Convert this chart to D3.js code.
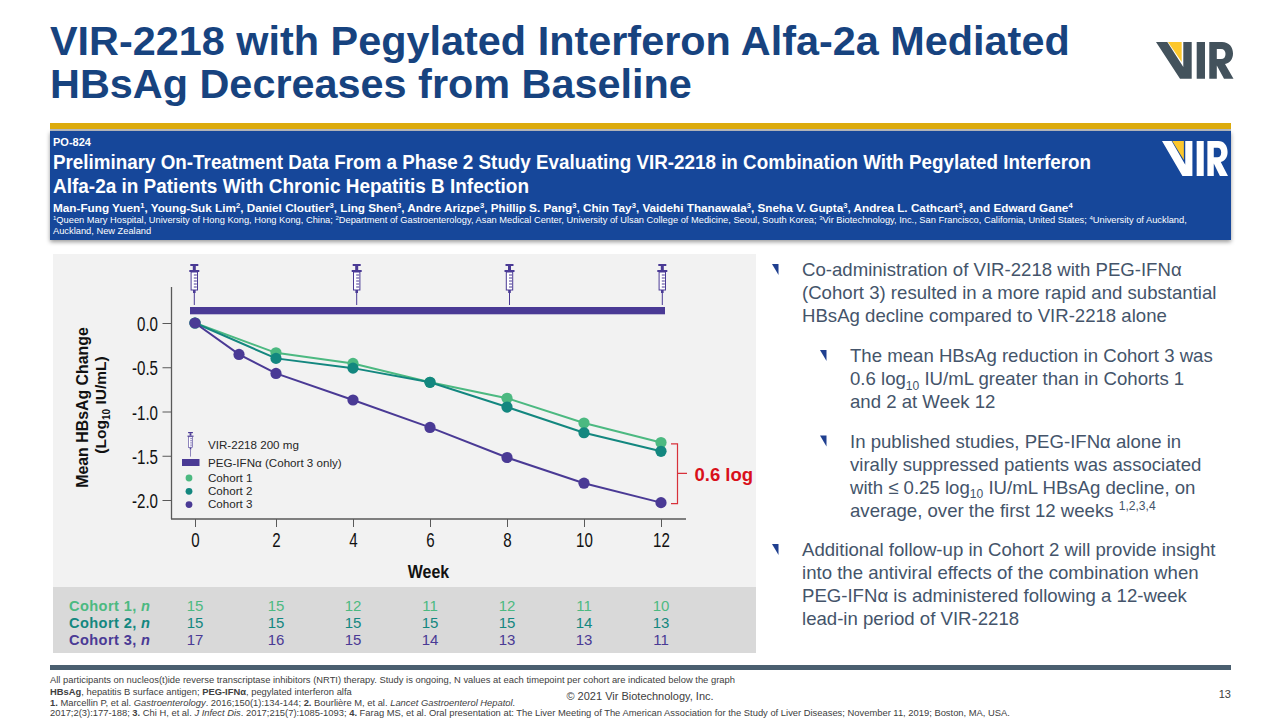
<!DOCTYPE html>
<html><head><meta charset="utf-8">
<script src="https://cdn.jsdelivr.net/npm/d3@7/dist/d3.min.js"></script>
<style>
html,body{margin:0;padding:0;background:#fff;overflow:hidden}
svg{display:block}
text{font-family:"Liberation Sans",Arial,sans-serif}
</style></head><body>
<script>
// ---------- data ----------
const weekTicks = [0, 2, 4, 6, 8, 10, 12];
const yTicks = [0, -0.5, -1, -1.5, -2];
const doseWeeks = [0, 4, 8, 12];
const cohort1Weeks = [0, 2, 4, 6, 8, 10, 12];
const cohort1Values = [0, -0.337, -0.457, -0.67, -0.85, -1.13, -1.35];
const cohort2Weeks = [0, 2, 4, 6, 8, 10, 12];
const cohort2Values = [0, -0.40, -0.51, -0.67, -0.95, -1.24, -1.45];
const cohort3Weeks = [0, 1, 2, 4, 6, 8, 10, 12];
const cohort3Values = [0, -0.355, -0.57, -0.87, -1.18, -1.52, -1.81, -2.03];
const cohortNames = ["Cohort 1", "Cohort 2", "Cohort 3"];
const cohort1N = [15, 15, 12, 11, 12, 11, 10];
const cohort2N = [15, 15, 15, 15, 15, 14, 13];
const cohort3N = [17, 16, 15, 14, 13, 13, 11];
const legendLabels = ["VIR-2218 200 mg", "PEG-IFNα (Cohort 3 only)", "Cohort 1", "Cohort 2", "Cohort 3"];
const titleLines = ["VIR-2218 with Pegylated Interferon Alfa-2a Mediated", "HBsAg Decreases from Baseline"];
const bannerTitle = ["Preliminary On-Treatment Data From a Phase 2 Study Evaluating VIR-2218 in Combination With Pegylated Interferon", "Alfa-2a in Patients With Chronic Hepatitis B Infection"];
const C1 = "#4cb981", C2 = "#13877f", C3 = "#4a3a95", BODY = "#44546a";

// ---------- helpers ----------
const svg = d3.select("body").append("svg").attr("width", 1280).attr("height", 720);
function rich(g, x, y, parts, o) {
  const t = g.append("text").attr("x", x).attr("y", y)
    .attr("font-size", o.size).attr("fill", o.fill)
    .attr("font-family", o.family || null).attr("font-weight", o.weight || null)
    .attr("text-anchor", o.anchor || null).attr("transform", o.transform || null)
    .attr("xml:space", "preserve");
  let shift = 0;
  parts.forEach(p => {
    const s = typeof p === "string" ? { t: p } : p;
    const ts = t.append("tspan").text(s.t);
    if (s.b) ts.attr("font-weight", "bold");
    if (s.i) ts.attr("font-style", "italic");
    const off = s.sub ? o.size * 0.25 : s.sup ? -o.size * 0.35 : 0;
    if (off !== shift) { ts.attr("dy", off - shift); shift = off; }
    if (s.sub || s.sup) ts.attr("font-size", o.size * 0.65);
  });
  return t;
}
function logo(x, y, w, h, mono, accent) {
  const g = svg.append("g").attr("transform", `translate(${x},${y}) scale(${w / 77.5},${h / 36.7})`);
  g.append("path").attr("fill", mono).attr("d", "M0,0H11.3L27.3,25V0H35.7V36.7H24Z M40.7,0H49V36.7H40.7Z");
  g.append("path").attr("fill", accent).attr("d", "M12,0H25.7V20Z");
  g.append("path").attr("fill", mono).attr("fill-rule", "evenodd").attr("d",
    "M53.3,0H66C73,0 77,5 77,11.5C77,17 74,21 69,22L77.5,36.7H68L60.8,23.5V36.7H53.3Z M60.8,7V17H65C68,17 69.5,15 69.5,12C69.5,9 68,7 65,7Z");
}
function syringe(g, cx, top, k, col) {
  const s = g.append("g").attr("transform", `translate(${cx},${top}) scale(${k})`)
    .attr("fill", "none").attr("stroke", col);
  s.append("rect").attr("x", -4).attr("y", 0).attr("width", 8).attr("height", 2).attr("fill", col).attr("stroke", "none");
  s.append("rect").attr("x", -1.5).attr("y", 2).attr("width", 3).attr("height", 4).attr("fill", col).attr("stroke", "none");
  s.append("rect").attr("x", -5).attr("y", 6).attr("width", 10).attr("height", 2).attr("fill", col).attr("stroke", "none");
  s.append("rect").attr("x", -3.2).attr("y", 8).attr("width", 6.4).attr("height", 18).attr("fill", "#fff").attr("stroke-width", 1);
  [11, 14, 17, 20, 23].forEach(v => s.append("line").attr("x1", -0.5).attr("x2", 2.5).attr("y1", v).attr("y2", v).attr("stroke-width", 1));
  s.append("rect").attr("x", -1.3).attr("y", 26).attr("width", 2.6).attr("height", 3).attr("fill", col).attr("stroke", "none");
  s.append("line").attr("x1", 0).attr("x2", 0).attr("y1", 29).attr("y2", 41).attr("stroke-width", 1);
}

// ---------- header ----------
titleLines.forEach((l, i) => svg.append("text").attr("x", 50).attr("y", 55 + i * 43)
  .attr("font-size", 41.4).attr("font-weight", "bold").attr("fill", "#17437f").text(l));
logo(1156, 42, 77.5, 36.7, "#43525c", "#fcc72c");

const defs = svg.append("defs");
const blur = defs.append("filter").attr("id", "sh").attr("x", "-2%").attr("y", "-10%").attr("width", "104%").attr("height", "125%");
blur.append("feDropShadow").attr("dx", 0).attr("dy", 2).attr("stdDeviation", 2).attr("flood-color", "#000").attr("flood-opacity", .4);
svg.append("rect").attr("x", 50).attr("y", 123).attr("width", 1181).attr("height", 6).attr("fill", "#dcab0c");
svg.append("rect").attr("x", 50).attr("y", 129).attr("width", 1181).attr("height", 2).attr("fill", "#b9bcc0");
svg.append("rect").attr("x", 50).attr("y", 131).attr("width", 1181).attr("height", 109).attr("fill", "#19469a").attr("filter", "url(#sh)");
svg.append("text").attr("x", 53).attr("y", 146).attr("font-size", 11).attr("font-weight", "bold").attr("fill", "#fff").text("PO-824");
const bannerWidths = [1038, 476];
bannerTitle.forEach((l, i) => svg.append("text").attr("x", 53).attr("y", 169 + i * 24)
  .attr("font-family", "Lato").attr("font-size", 20.8).attr("font-weight", "bold").attr("fill", "#fff")
  .attr("textLength", bannerWidths[i]).attr("lengthAdjust", "spacingAndGlyphs").text(l));
const authors = ["Man-Fung Yuen", "1", ", Young-Suk Lim", "2", ", Daniel Cloutier", "3", ", Ling Shen", "3", ", Andre Arizpe", "3", ", Phillip S. Pang", "3", ", Chin Tay", "3", ", Vaidehi Thanawala", "3", ", Sneha V. Gupta", "3", ", Andrea L. Cathcart", "3", ", and Edward Gane", "4"];
rich(svg, 53, 212, authors.map((t, i) => i % 2 ? { t, sup: 1 } : t), { size: 11.74, fill: "#fff", weight: "bold" });
rich(svg, 53, 223, [{ t: "1", sup: 1 }, "Queen Mary Hospital, University of Hong Kong, Hong Kong, China; ", { t: "2", sup: 1 }, "Department of Gastroenterology, Asan Medical Center, University of Ulsan College of Medicine, Seoul, South Korea; ", { t: "3", sup: 1 }, "Vir Biotechnology, Inc., San Francisco, California, United States; ", { t: "4", sup: 1 }, "University of Auckland,"], { size: 9.3, fill: "#fff" });
svg.append("text").attr("x", 53).attr("y", 234).attr("font-size", 9.3).attr("fill", "#fff").text("Auckland, New Zealand");
logo(1162, 141, 66, 35, "#ffffff", "#fcc72c");

// ---------- panels ----------
svg.append("rect").attr("x", 53).attr("y", 254).attr("width", 703).attr("height", 333).attr("fill", "#f2f2f2");
svg.append("rect").attr("x", 53).attr("y", 587).attr("width", 703).attr("height", 66).attr("fill", "#d9d9d9");

// ---------- scales ----------
const x = d3.scaleLinear().domain([0, 1, 2, 12]).range([195, 239, 276, 661]);
const doseX = d3.scaleLinear().domain([0, 4, 12]).range([194.3, 356.7, 662.3]);
const y = d3.scaleLinear().domain([0, -2]).range([323, 500]);
const squeeze = 0.72;

// axes
const axisY = svg.append("g").attr("transform", "translate(171.5,0)")
  .call(d3.axisLeft(y).tickValues(yTicks).tickSize(9).tickSizeOuter(0).tickPadding(4).tickFormat(d3.format(".1f")));
axisY.select(".domain").remove();
axisY.append("line").attr("y1", 287).attr("y2", 519).attr("stroke", "#595959").attr("stroke-width", 1.3);
const axisX = svg.append("g").attr("transform", "translate(0,519)")
  .call(d3.axisBottom(x).tickValues(weekTicks).tickSize(8).tickSizeOuter(0).tickPadding(5));
axisX.select(".domain").remove();
axisX.append("line").attr("x1", 171).attr("x2", 686).attr("stroke", "#595959").attr("stroke-width", 1.3);
[axisX, axisY].forEach(a => {
  a.selectAll(".tick line").attr("stroke", "#595959").attr("stroke-width", 1);
  a.selectAll(".tick text").attr("font-size", 21).attr("fill", "#111").attr("transform", `scale(${squeeze},1)`);
});
axisY.selectAll(".tick text").attr("x", -13.5 / squeeze).attr("y", 1).text(d => d3.format(".1f")(d).replace("−", "-"));

svg.append("text").attr("transform", "translate(88,407.5) rotate(-90)").attr("text-anchor", "middle")
  .attr("font-size", 15.9).attr("font-weight", "bold").attr("fill", "#111").text("Mean HBsAg Change");
rich(svg, 0, 0, ["(Log", { t: "10", sub: 1 }, " IU/mL)"], { size: 15.5, fill: "#111", weight: "bold", anchor: "middle", transform: "translate(106,405) rotate(-90)" });
svg.append("text").attr("transform", "translate(428.5,578) scale(0.84,1)").attr("text-anchor", "middle")
  .attr("font-size", 19).attr("font-weight", "bold").attr("fill", "#111").text("Week");

// PEG bar and doses
svg.append("rect").attr("x", x(0) - 5).attr("y", 307).attr("width", x(12) - x(0) + 9).attr("height", 7.3).attr("fill", C3);
doseWeeks.forEach(w => syringe(svg, doseX(w), 264, 1, C3));

// series
const line = d3.line().x(d => x(d[0])).y(d => y(d[1]));
[[cohort1Weeks, cohort1Values, C1], [cohort2Weeks, cohort2Values, C2], [cohort3Weeks, cohort3Values, C3]].forEach(([w, v, c]) => {
  const pts = d3.zip(w, v);
  svg.append("path").datum(pts).attr("d", line).attr("fill", "none").attr("stroke", c).attr("stroke-width", 2);
  svg.append("g").selectAll("circle").data(pts).join("circle")
    .attr("cx", d => x(d[0])).attr("cy", d => y(d[1])).attr("r", 5.6).attr("fill", c);
});

// legend
syringe(svg, 190.5, 432, 0.6, C3);
svg.append("rect").attr("x", 182).attr("y", 459).attr("width", 17.5).attr("height", 7).attr("fill", C3);
[C1, C2, C3].forEach((c, i) => svg.append("circle").attr("cx", 189).attr("cy", 478 + i * 13.3).attr("r", 3.4).attr("fill", c));
[449, 467, 482, 495, 508].forEach((b, i) => svg.append("text").attr("x", 208).attr("y", b)
  .attr("font-size", 11.6).attr("fill", "#262626").text(legendLabels[i]));

// bracket
svg.append("path").attr("fill", "none").attr("stroke", "#d8313a").attr("stroke-width", 1.2)
  .attr("d", `M671,${y(-1.365)}H677.5V${y(-2.04)}H671M677.5,${y(-1.7)}H687`);
svg.append("text").attr("x", 694.5).attr("y", 481).attr("font-size", 18.5).attr("font-weight", "bold").attr("fill", "#d9101a").text("0.6 log");

// n table
[[cohort1N, C1], [cohort2N, C2], [cohort3N, C3]].forEach(([ns, c], r) => {
  const base = 611 + r * 17;
  rich(svg, 69, base, [cohortNames[r] + ", ", { t: "n", i: 1 }], { size: 14.6, fill: c, weight: "bold" }).style("letter-spacing", "0.4px");
  ns.forEach((n, i) => svg.append("text").attr("x", x(weekTicks[i])).attr("y", base).attr("text-anchor", "middle")
    .attr("font-size", 15).attr("fill", c).text(n));
});

// ---------- bullets ----------
const bullets = [
  [0, 276, ["Co-administration of VIR-2218 with PEG-IFNα"], ["(Cohort 3) resulted in a more rapid and substantial"], ["HBsAg decline compared to VIR-2218 alone"]],
  [1, 362, ["The mean HBsAg reduction in Cohort 3 was"], ["0.6 log", { t: "10", sub: 1 }, " IU/mL greater than in Cohorts 1"], ["and 2 at Week 12"]],
  [1, 447.5, ["In published studies, PEG-IFNα alone in"], ["virally suppressed patients was associated"], ["with ≤ 0.25 log", { t: "10", sub: 1 }, " IU/mL HBsAg decline, on"], ["average, over the first 12 weeks ", { t: "1,2,3,4", sup: 1 }]],
  [0, 556, ["Additional follow-up in Cohort 2 will provide insight"], ["into the antiviral effects of the combination when"], ["PEG-IFNα is administered following a 12-week"], ["lead-in period of VIR-2218"]]
];
bullets.forEach(([lvl, base, ...lines]) => {
  const tx = lvl ? 850 : 802, bx = lvl ? 820 : 772;
  svg.append("path").attr("d", `M${bx},${base - 12}h6.5v11z`).attr("fill", "#1f3f8f");
  lines.forEach((p, i) => rich(svg, tx, base + i * 23, p, { size: 18.6, fill: BODY }));
});

// ---------- footer ----------
svg.append("rect").attr("x", 50).attr("y", 665).attr("width", 1181).attr("height", 5).attr("fill", "#4a5f70");
const F = { size: 9.38, fill: "#404040" };
rich(svg, 50, 683, ["All participants on nucleos(t)ide reverse transcriptase inhibitors (NRTI) therapy. Study is ongoing, N values at each timepoint per cohort are indicated below the graph"], F);
rich(svg, 50, 694.5, [{ t: "HBsAg", b: 1 }, ", hepatitis B surface antigen; ", { t: "PEG-IFNα", b: 1 }, ", pegylated interferon alfa"], F);
rich(svg, 50, 705.5, [{ t: "1.", b: 1 }, " Marcellin P, et al. ", { t: "Gastroenterology", i: 1 }, ". 2016;150(1):134-144; ", { t: "2.", b: 1 }, " Bourlière M, et al. ", { t: "Lancet Gastroenterol Hepatol.", i: 1 }], F);
rich(svg, 50, 715.5, ["2017;2(3):177-188; ", { t: "3.", b: 1 }, " Chi H, et al. ", { t: "J Infect Dis", i: 1 }, ". 2017;215(7):1085-1093; ", { t: "4.", b: 1 }, " Farag MS, et al. Oral presentation at: The Liver Meeting of The American Association for the Study of Liver Diseases; November 11, 2019; Boston, MA, USA."], F);
svg.append("text").attr("x", 640).attr("y", 700).attr("text-anchor", "middle").attr("font-size", 11).attr("fill", "#404040").text("© 2021 Vir Biotechnology, Inc.");
svg.append("text").attr("x", 1231).attr("y", 698).attr("text-anchor", "end").attr("font-size", 11).attr("fill", "#404040").text("13");
</script>
</body></html>
